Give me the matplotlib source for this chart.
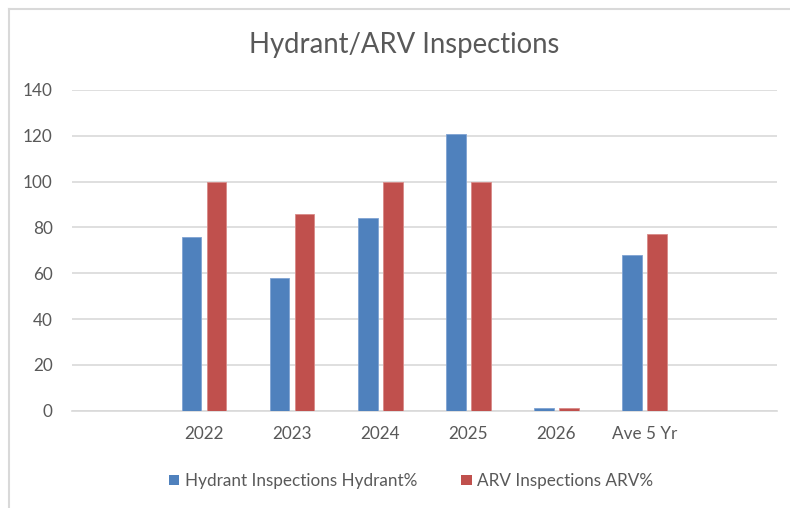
import matplotlib
matplotlib.use("Agg")
import matplotlib.pyplot as plt
import numpy as np
from matplotlib.patches import Patch
from matplotlib.lines import Line2D

categories = ["", "2022", "2023", "2024", "2025", "2026", "Ave 5 Yr", ""]
hydrant = [0, 76, 58, 84, 121, 1, 67.8, 0]
arv = [0, 100, 86, 100, 100, 1, 77.2, 0]
yticks = [0, 20, 40, 60, 80, 100, 120, 140]

blue = "#4F81BD"
red = "#C0504D"
txt = "#595959"
font = "Lato"

W, H = 790, 508
fig = plt.figure(figsize=(W / 100, H / 100), dpi=100)
ax = fig.add_axes([72 / W, 1 - 410.7 / H, (776.7 - 72) / W, (410.7 - 90) / H])

x = np.arange(len(categories))
bw = 19.5 / 88.1
off = 12.5 / 88.1
hv = [v if c else np.nan for v, c in zip(hydrant, categories)]
av = [v if c else np.nan for v, c in zip(arv, categories)]
ax.bar(x - off, hv, bw, color=blue, edgecolor="#7fa3d3", linewidth=0.6, zorder=3)
ax.bar(x + off, av, bw, color=red, edgecolor="#d88a88", linewidth=0.6, zorder=3)

ax.set_xlim(-0.5, len(categories) - 0.5)
ax.set_ylim(0, 140)
ax.set_yticks(yticks)
ax.set_yticklabels([str(t) for t in yticks], fontfamily=font, fontsize=12.3, color=txt)
ax.set_xticks(x)
ax.set_xticklabels(categories, fontfamily=font, fontsize=12.3, color=txt)
ax.tick_params(axis="both", length=0)
ax.tick_params(axis="y", pad=14)
ax.tick_params(axis="x", pad=11)
ax.grid(axis="y", color="#D9D9D9", linewidth=1.2, zorder=0)
for s in ["top", "right", "left"]:
    ax.spines[s].set_visible(False)
ax.spines["bottom"].set_color("#D9D9D9")
ax.spines["bottom"].set_linewidth(1.2)

fig.text(404 / W, 1 - 45 / H, "Hydrant/ARV Inspections", ha="center", va="center",
         fontfamily=font, fontsize=19.8, color=txt)

handles = [Patch(facecolor=blue, edgecolor="none"), Patch(facecolor=red, edgecolor="none")]
fig.legend(handles, ["Hydrant Inspections Hydrant%", "ARV Inspections ARV%"],
           loc="center", bbox_to_anchor=(411 / W, 1 - 481 / H), ncol=2, frameon=False,
           prop={"family": font, "size": 12.3}, labelcolor=txt,
           handlelength=0.6, handleheight=0.6, handletextpad=0.3, columnspacing=2.6)

fig.add_artist(Line2D([8.5 / W, 8.5 / W], [0, 1 - 8.5 / H], color="#D9D9D9", linewidth=1.5))
fig.add_artist(Line2D([8.5 / W, 1], [1 - 8.5 / H, 1 - 8.5 / H], color="#D9D9D9", linewidth=1.5))

fig.savefig("out.png", dpi=100, facecolor="white")
